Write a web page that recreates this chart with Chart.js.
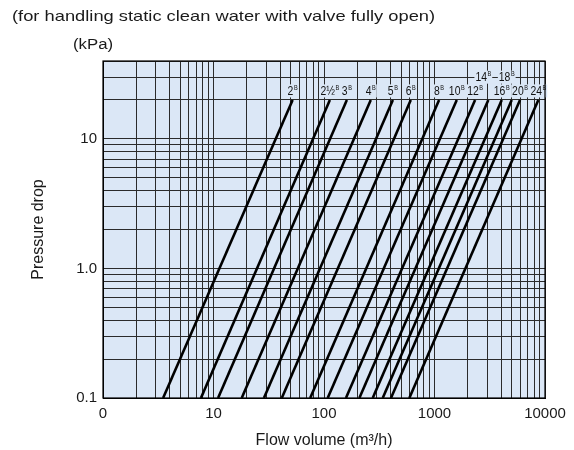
<!DOCTYPE html>
<html><head><meta charset="utf-8">
<script src="https://cdn.jsdelivr.net/npm/chart.js@4/dist/chart.umd.min.js"></script>
<style>html,body{margin:0;padding:0;background:#fff}#wrap{width:574px;height:450px;position:relative}</style>
</head><body><div id="wrap"><canvas id="c" width="574" height="450"></canvas></div>
<script>
// ---- data ----
const pipeSizes = ['2', '2½', '3', '4', '5', '6', '8', '10', '12', '14', '16', '18', '20', '24'];
const flowAtTop = [52, 113, 161, 265, 420, 610, 1100, 1590, 2330, 3070, 4060, 5000, 5940, 8700]; // m3/h at 20 kPa
const flowAtBottom = [3.5, 7.7, 11, 18, 28.6, 41.5, 75, 108, 158, 209, 276, 340, 404, 592]; // m3/h at 0.1 kPa
const pressureTop = 20;
const pressureBottom = 0.1;
const upperRowSizes = ['14', '18'];
const xTickValues = [1,2,3,4,5,6,7,8,9,10,20,30,40,50,60,70,80,90,100,200,300,400,500,600,700,800,900,1000,2000,3000,4000,5000,6000,7000,8000,9000,10000];
const xTickLabels = ['0', '10', '100', '1000', '10000'];
const xLabelValues = [1, 10, 100, 1000, 10000];
const yTickValues = [0.1,0.2,0.3,0.4,0.5,0.6,0.7,0.8,0.9,1,2,3,4,5,6,7,8,9,10,20,30,40];
const yTickLabels = ['0.1', '1.0', '10'];
const yLabelValues = [0.1, 1, 10];
const titleText = '(for handling static clean water with valve fully open)';
const unitText = '(kPa)';
const xTitle = 'Flow volume (m³/h)';
const yTitle = 'Pressure drop';

// ---- chart ----
const FONT = "'Liberation Sans', Arial, sans-serif";
Chart.defaults.font.family = FONT;
Chart.defaults.font.size = 15;
Chart.defaults.color = '#1a1a1a';
const PLOT_BG = '#dbe7f6';

const datasets = pipeSizes.map((s, i) => ({
  label: s,
  data: [{x: flowAtBottom[i], y: pressureBottom}, {x: flowAtTop[i], y: pressureTop}],
  showLine: true, borderColor: '#000', borderWidth: 2.6, pointRadius: 0, fill: false
}));

function labelFor(values, labels, v) {
  for (let i = 0; i < values.length; i++) if (Math.abs(values[i] - v) < 1e-9 * Math.max(1, v)) return labels[i];
  return '';
}

function stretchedText(ctx, text, x, y, font, sx) {
  ctx.save();
  ctx.font = font;
  ctx.translate(x, y);
  ctx.scale(sx, 1);
  ctx.fillText(text, 0, 0);
  ctx.restore();
}

const framePlugin = {
  id: 'frame',
  beforeDraw(chart) {
    const {ctx, chartArea: a} = chart;
    ctx.save();
    ctx.fillStyle = PLOT_BG;
    ctx.fillRect(a.left, a.top, a.right - a.left, a.bottom - a.top);
    ctx.fillStyle = '#1a1a1a';
    ctx.textBaseline = 'middle';
    ctx.textAlign = 'left';
    stretchedText(ctx, titleText, 12, 17, '15px ' + FONT, 1.22);
    stretchedText(ctx, unitText, 73, 45, '14px ' + FONT, 1.2);
    ctx.restore();
  },
  afterDatasetsDraw(chart) {
    const {ctx} = chart;
    const xs = chart.scales.x, ys = chart.scales.y;
    const SX = 0.8;
    ctx.save();
    ctx.textBaseline = 'middle';
    ctx.textAlign = 'left';
    pipeSizes.forEach((s, i) => {
      const upper = upperRowSizes.includes(s);
      const cx = xs.getPixelForValue(flowAtTop[i]) - (upper ? 5 : 0);
      const cy = ys.getPixelForValue(upper ? 30 : 23.5);
      ctx.font = '13px ' + FONT;
      const w1 = ctx.measureText(s).width * SX;
      ctx.font = '7px ' + FONT;
      const w2 = ctx.measureText('B').width * SX;
      const w = w1 + w2 + 0.5;
      ctx.fillStyle = PLOT_BG;
      ctx.fillRect(cx - w / 2 - 1, cy - 6.5, w + 2, 13);
      ctx.fillStyle = '#111';
      stretchedText(ctx, s, cx - w / 2, cy + 0.5, '13px ' + FONT, SX);
      stretchedText(ctx, 'B', cx - w / 2 + w1 + 0.5, cy - 3, '7px ' + FONT, SX);
    });
    ctx.restore();
  },
  afterDraw(chart) {
    const {ctx, chartArea: a} = chart;
    ctx.save();
    ctx.strokeStyle = '#000';
    ctx.lineWidth = 1.2;
    ctx.strokeRect(a.left, a.top, a.right - a.left, a.bottom - a.top);
    ctx.restore();
  }
};

new Chart(document.getElementById('c'), {
  type: 'scatter',
  data: {datasets},
  options: {
    responsive: false, animation: false, devicePixelRatio: 1,
    layout: {padding: {top: 61, right: 29, left: 0, bottom: 0}},
    plugins: {legend: {display: false}, tooltip: {enabled: false}},
    scales: {
      x: {
        type: 'logarithmic', min: 1, max: 10000,
        afterBuildTicks(scale) { scale.ticks = xTickValues.map(v => ({value: v})); },
        afterFit(scale) { scale.height = 52; },
        ticks: {autoSkip: false, maxRotation: 0, padding: 7,
          callback: (v) => labelFor(xLabelValues, xTickLabels, v)},
        grid: {color: '#2b2b2b', lineWidth: 1, drawTicks: false},
        border: {display: true, color: '#000'},
        title: {display: true, text: xTitle, padding: {top: 0, bottom: 0}, font: {size: 16}}
      },
      y: {
        type: 'logarithmic', min: 0.1, max: 40,
        afterBuildTicks(scale) { scale.ticks = yTickValues.map(v => ({value: v})); },
        afterFit(scale) { scale.width = 103; },
        ticks: {autoSkip: false, padding: 6,
          callback: (v) => labelFor(yLabelValues, yTickLabels, v)},
        grid: {color: '#2b2b2b', lineWidth: 1, drawTicks: false},
        border: {display: true, color: '#000'},
        title: {display: true, text: yTitle, padding: {top: 29, bottom: 0}, font: {size: 16}}
      }
    }
  },
  plugins: [framePlugin]
});
</script></body></html>
